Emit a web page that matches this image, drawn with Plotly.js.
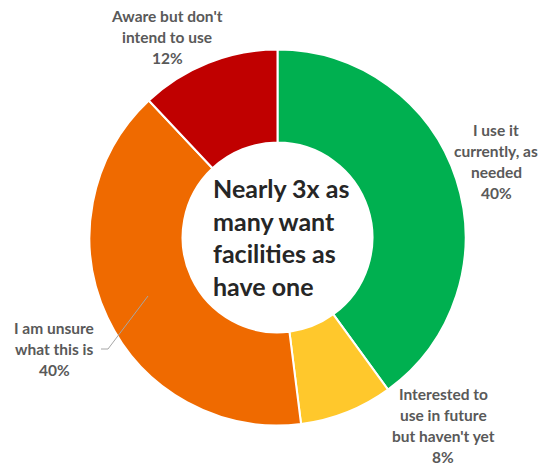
<!DOCTYPE html>
<html>
<head>
<meta charset="utf-8">
<script src="https://cdn.plot.ly/plotly-3.0.1.min.js"></script>
<style>html,body{margin:0;padding:0;background:#fff;}#chart{width:538px;height:467px;}</style>
</head>
<body>
<div id="chart"></div>
<script>
// ---- data ----
const categories = [
  "I use it currently, as needed",
  "Interested to use in future but haven't yet",
  "I am unsure what this is",
  "Aware but don't intend to use"
];
const values = [40, 8, 40, 12];
const sliceColors = ["#00B050", "#FFC82C", "#EF6A00", "#C00000"];
const labelLines = [
  ["I use it", "currently, as", "needed"],
  ["Interested to", "use in future", "but haven't yet"],
  ["I am unsure", "what this is"],
  ["Aware but don't", "intend to use"]
];
const centerText = ["Nearly 3x as", "many want", "facilities as", "have one"];

// ---- layout helpers (pixel -> paper) ----
const W = 538, H = 467;
const px = x => x / W;
const py = y => 1 - y / H;

// label anchor positions (pixel centers of first line) and line step
const labelPos = [
  {x: 496, y: 130},
  {x: 443, y: 394},
  {x: 54,  y: 328},
  {x: 167, y: 16}
];
const lineStep = 21;

const total = values.reduce((a, b) => a + b, 0);
const annotations = [];
categories.forEach((c, i) => {
  const lines = labelLines[i].concat([Math.round(values[i] / total * 100) + "%"]);
  lines.forEach((t, j) => {
    annotations.push({
      text: t, xref: "paper", yref: "paper",
      x: px(labelPos[i].x), y: py(labelPos[i].y + j * lineStep),
      xanchor: "center", yanchor: "middle", showarrow: false,
      font: {family: "Lato, 'Open Sans', sans-serif", size: 15.5, color: "#595959", weight: 700}
    });
  });
});
annotations.push({
  text: centerText.join("<br>"), xref: "paper", yref: "paper",
  x: px(211), y: py(237), xanchor: "left", yanchor: "middle", align: "left",
  showarrow: false,
  font: {family: "Lato, 'Open Sans', sans-serif", size: 25, color: "#262626", weight: 700}
});

const cx = 277.5, cy = 237.5, R = 188;
const data = [{
  type: "pie",
  labels: categories,
  values: values,
  sort: false,
  direction: "clockwise",
  rotation: 0,
  hole: 0.505,
  textinfo: "none",
  marker: {colors: sliceColors, line: {color: "#ffffff", width: 2}},
  domain: {x: [px(cx - R), px(cx + R)], y: [py(cy + R), py(cy - R)]},
  showlegend: false
}];

const layout = {
  width: W, height: H,
  margin: {l: 0, r: 0, t: 0, b: 0},
  paper_bgcolor: "#ffffff",
  annotations: annotations,
  shapes: [{
    type: "path", xref: "paper", yref: "paper",
    path: `M ${px(101)} ${py(349)} L ${px(108)} ${py(349)} L ${px(148)} ${py(296)}`,
    line: {color: "#A6A6A6", width: 1}
  }]
};

Plotly.newPlot("chart", data, layout, {displayModeBar: false, staticPlot: true});
</script>
</body>
</html>
